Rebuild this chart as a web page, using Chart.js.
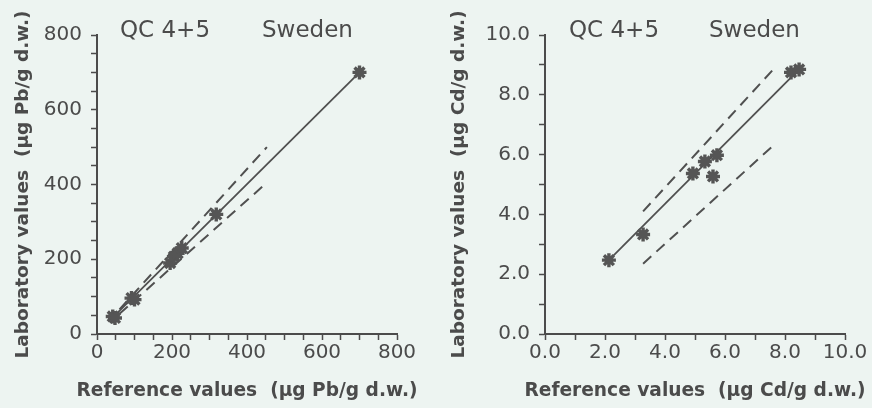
<!DOCTYPE html>
<html>
<head>
<meta charset="utf-8">
<script src="https://cdn.jsdelivr.net/npm/chart.js@4.4.1/dist/chart.umd.min.js"></script>
<style>
  body { margin: 0; background: #edf4f1; }
  #wrap { position: relative; width: 872px; height: 408px; overflow: hidden; }
  canvas { position: absolute; top: 0; }
  #pb { left: 0; }
  #cd { left: 436px; }
</style>
</head>
<body>
<div id="wrap">
  <canvas id="pb" width="436" height="408"></canvas>
  <canvas id="cd" width="436" height="408"></canvas>
</div>
<script>
// Pb panel (µg Pb/g d.w.)
var pbPoints = [[42, 47], [48, 43], [92, 96], [100, 92], [195, 190], [205, 207], [215, 216], [226, 230], [318, 320], [700, 700]];
var pbFit = [[43, 45], [700, 700]];
var pbUpper = [[60, 66], [453, 500]];
var pbLower = [[60, 54], [453, 405]];
var pbMajor = [0, 200, 400, 600, 800];

// Cd panel (µg Cd/g d.w.)
var cdPoints = [[2.13, 2.47], [3.27, 3.33], [4.93, 5.37], [5.33, 5.77], [5.73, 5.98], [5.6, 5.27], [8.2, 8.75], [8.47, 8.85]];
var cdFit = [[2.13, 2.47], [8.47, 8.85]];
var cdUpper = [[3.27, 4.1], [7.7, 8.95]];
var cdLower = [[3.27, 2.35], [7.55, 6.25]];
var cdMajor = [0, 2, 4, 6, 8, 10];

var ink = "#4b4b4b";
Chart.defaults.font.family = "'DejaVu Sans', sans-serif";
Chart.defaults.color = ink;

function xy(arr) {
    return arr.map(function (p) { return {x: p[0], y: p[1]}; });
}

// header and x title drawn by hand (Chart.js squeezes x titles to the axis width)
var headerPlugin = {
    id: "header",
    afterDraw: function (chart, args, opts) {
        var ctx = chart.ctx;
        var area = chart.chartArea;
        ctx.save();
        ctx.fillStyle = ink;
        ctx.font = "23px 'DejaVu Sans'";
        ctx.textBaseline = "alphabetic";
        ctx.fillText("QC 4+5", opts.x1, 37);
        ctx.fillText("Sweden", opts.x2, 37);
        ctx.font = "bold 18.6px 'DejaVu Sans'";
        ctx.textAlign = "center";
        ctx.textBaseline = "middle";
        ctx.fillText(opts.xTitle, (area.left + area.right) / 2, 391);
        ctx.restore();
    }
};

function makeChart(id, cfg) {
    var fmt = function (v) {
        if (cfg.major.indexOf(v) < 0) return "";
        return cfg.decimals ? v.toFixed(1) : String(v);
    };
    return new Chart(document.getElementById(id), {
        type: "scatter",
        data: {
            datasets: [
                {
                    data: xy(cfg.points),
                    pointStyle: "star",
                    pointRadius: 7,
                    borderWidth: 3.4,
                    borderColor: "#555555",
                    backgroundColor: "#555555"
                },
                {
                    data: xy(cfg.fit),
                    showLine: true,
                    pointRadius: 0,
                    borderWidth: 1.8,
                    borderColor: "#505050"
                },
                {
                    data: xy(cfg.upper),
                    showLine: true,
                    pointRadius: 0,
                    borderWidth: 2,
                    borderDash: [11, 7],
                    borderColor: "#505050"
                },
                {
                    data: xy(cfg.lower),
                    showLine: true,
                    pointRadius: 0,
                    borderWidth: 2,
                    borderDash: [11, 7],
                    borderColor: "#505050"
                }
            ]
        },
        options: {
            responsive: false,
            animation: false,
            layout: {padding: {left: 0, right: cfg.padRight, top: 35, bottom: 0}},
            plugins: {
                legend: {display: false},
                tooltip: {enabled: false},
                header: {x1: cfg.x1, x2: cfg.x2, xTitle: cfg.xTitle}
            },
            scales: {
                x: {
                    min: 0,
                    max: cfg.max,
                    afterFit: function (s) { s.height = 74; },
                    afterBuildTicks: function (s) {
                        s.ticks = cfg.minor.map(function (v) { return {value: v}; });
                    },
                    ticks: {
                        autoSkip: false,
                        maxRotation: 0,
                        padding: 1,
                        font: {size: 20},
                        callback: fmt
                    },
                    grid: {
                        drawOnChartArea: false,
                        tickLength: 6,
                        tickWidth: 1.5,
                        tickColor: ink
                    },
                    border: {color: ink, width: 2}
                },
                y: {
                    min: 0,
                    max: cfg.max,
                    afterFit: function (s) { s.width = cfg.axisX; },
                    afterBuildTicks: function (s) {
                        s.ticks = cfg.minor.map(function (v) { return {value: v}; });
                    },
                    ticks: {
                        autoSkip: false,
                        padding: 9,
                        font: {size: 20},
                        callback: fmt
                    },
                    grid: {
                        drawOnChartArea: false,
                        tickLength: 6,
                        tickWidth: 1.5,
                        tickColor: ink
                    },
                    border: {color: ink, width: 2},
                    title: {
                        display: true,
                        text: cfg.yTitle,
                        font: {size: 18.5, weight: "bold"},
                        padding: {top: 12, bottom: 0}
                    }
                }
            }
        },
        plugins: [headerPlugin]
    });
}

var pbMinor = [];
for (var i = 0; i <= 800; i += 50) pbMinor.push(i);
var cdMinor = [];
for (var j = 0; j <= 10; j += 1) cdMinor.push(j);

makeChart("pb", {
    points: pbPoints, fit: pbFit, upper: pbUpper, lower: pbLower,
    major: pbMajor, minor: pbMinor, max: 800, decimals: false,
    axisX: 97, padRight: 39, x1: 120, x2: 262,
    xTitle: "Reference values  (\u00b5g Pb/g d.w.)",
    yTitle: "Laboratory values  (\u00b5g Pb/g d.w.)"
});

makeChart("cd", {
    points: cdPoints, fit: cdFit, upper: cdUpper, lower: cdLower,
    major: cdMajor, minor: cdMinor, max: 10, decimals: true,
    axisX: 109, padRight: 27, x1: 133, x2: 273,
    xTitle: "Reference values  (\u00b5g Cd/g d.w.)",
    yTitle: "Laboratory values  (\u00b5g Cd/g d.w.)"
});
</script>
</body>
</html>
